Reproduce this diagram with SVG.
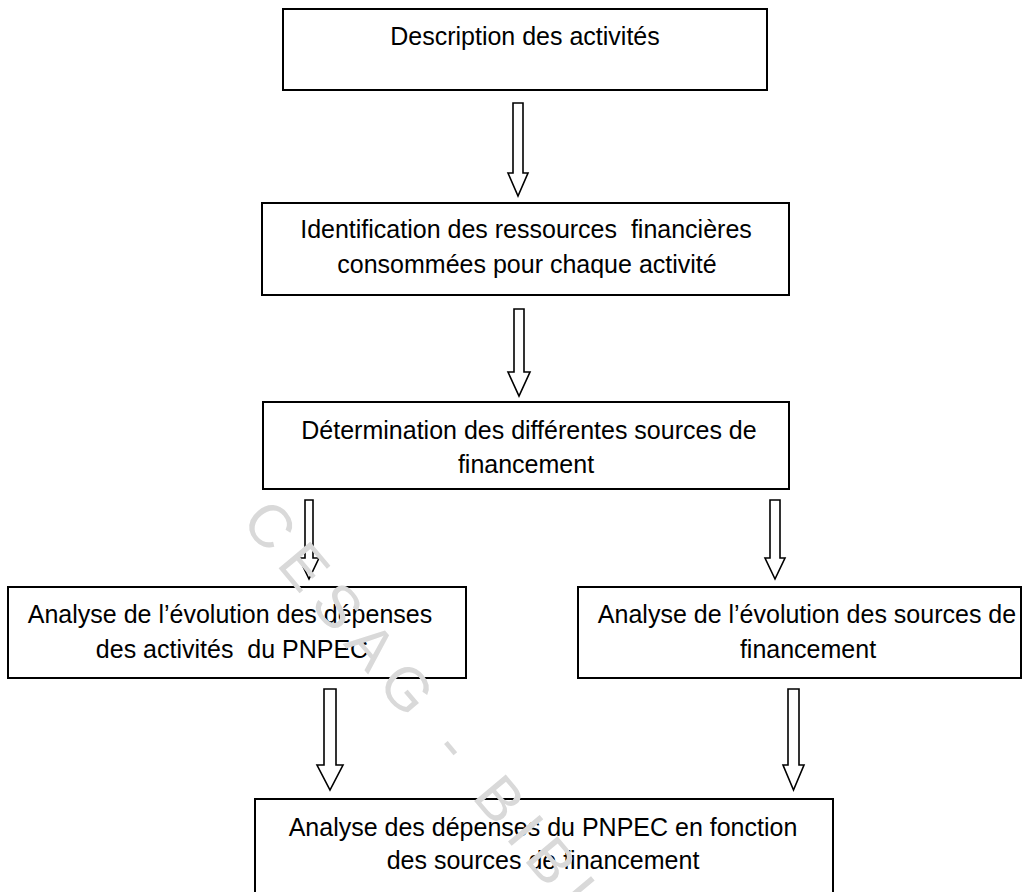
<svg xmlns="http://www.w3.org/2000/svg" width="1027" height="892" viewBox="0 0 1027 892">
<style>
.box{fill:#ffffff;stroke:#000000;stroke-width:2}
.arr{fill:#ffffff;stroke:#000000;stroke-width:1.6;stroke-linejoin:miter}
.t{font-family:"Liberation Sans",Arial,sans-serif;font-size:25px;fill:#000000;text-anchor:middle;white-space:pre}
.wm{font-family:"Liberation Sans",Arial,sans-serif;font-size:60px;fill:#d9d9d9;letter-spacing:12px}
</style>
<rect width="1027" height="892" fill="#ffffff"/>
<g id="n1"><rect class="box" x="283" y="9" width="484" height="81"/>
<text class="t" x="525" y="45">Description des activités</text></g>
<g id="n2"><rect class="box" x="262" y="203" width="527" height="92"/>
<text class="t" x="526" y="238">Identification des ressources  financières</text>
<text class="t" x="527" y="273">consommées pour chaque activité</text></g>
<g id="n3"><rect class="box" x="263" y="402" width="526" height="87"/>
<text class="t" x="529" y="439">Détermination des différentes sources de</text>
<text class="t" x="526" y="473">financement</text></g>
<g id="n4"><rect class="box" x="8" y="587" width="458" height="91"/>
<text class="t" x="230" y="623">Analyse de l’évolution des dépenses</text>
<text class="t" x="232" y="658">des activités  du PNPEC</text></g>
<g id="n5"><rect class="box" x="578" y="587" width="443" height="91"/>
<text class="t" x="807" y="623">Analyse de l’évolution des sources de</text>
<text class="t" x="808" y="658">financement</text></g>
<g id="n6"><rect class="box" x="255" y="799" width="578" height="110"/>
<text class="t" x="543" y="836">Analyse des dépenses du PNPEC en fonction</text>
<text class="t" x="543" y="869">des sources de financement</text></g>
<g id="connectors">
<path class="arr" d="M513,103 H523 V173 H528 L518,196 L508,173 H513 Z"/>
<path class="arr" d="M514,309 H524 V372 H530 L519,396 L508,372 H514 Z"/>
<path class="arr" d="M305,500 H313 V558 H319 L309,579 L299,558 H305 Z"/>
<path class="arr" d="M770,500 H780 V558 H785 L775,579 L765,558 H770 Z"/>
<path class="arr" d="M324,689 H336 V765 H343 L330,790 L317,765 H324 Z"/>
<path class="arr" d="M788,689 H799 V765 H804 L793.5,790 L783,765 H788 Z"/>
</g>
<text class="wm" transform="translate(240,522) rotate(50)">CESAG - BIBLIO</text>
</svg>
